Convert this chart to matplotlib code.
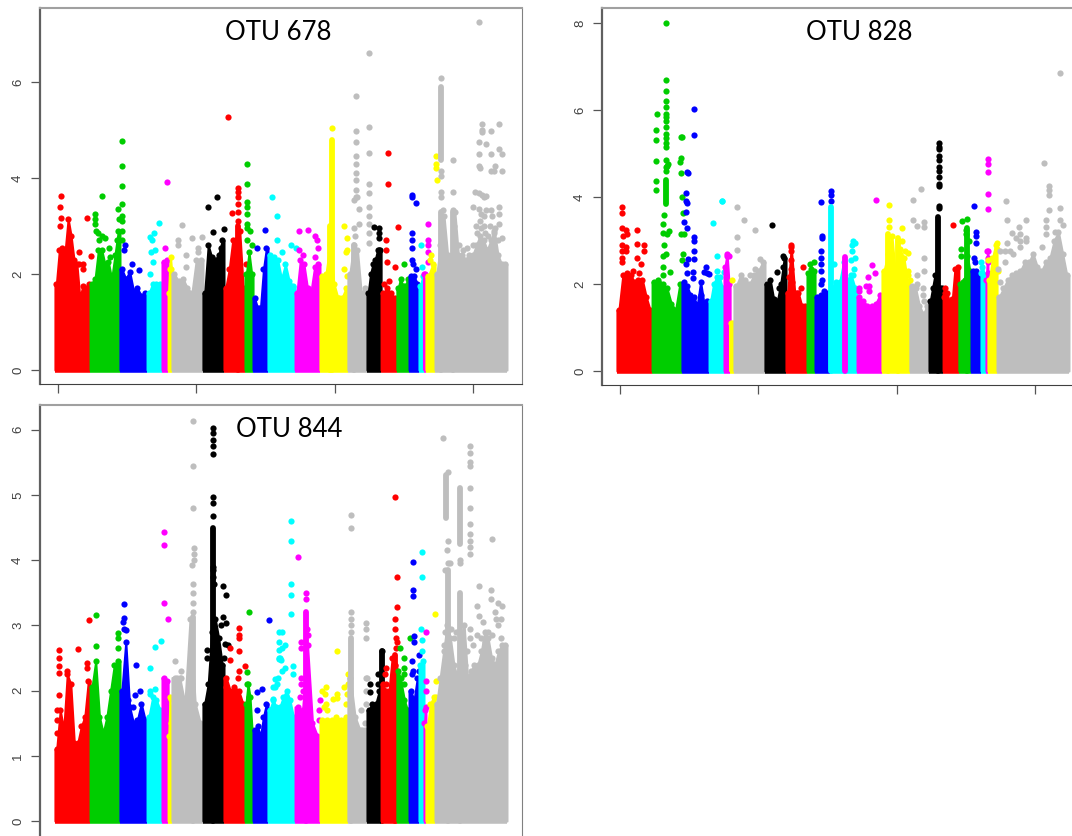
import numpy as np
import matplotlib
matplotlib.use('Agg')
import matplotlib.pyplot as plt

# chromosome edges in Mb, same for all three panels
chrom_edges = [-11, 116, 224, 322, 376, 398, 412, 524, 600, 676, 705, 759, 857, 947,
               1048, 1117, 1168, 1225, 1269, 1305, 1323, 1330, 1363, 1623]
palette = ['#FF0000', '#00CD00', '#0000FF', '#00FFFF', '#FF00FF', '#FFFF00', '#BEBEBE', '#000000']
chrom_colors = [palette[i % 8] for i in range(23)]
x_ticks = [0, 500, 1000, 1500]

# skyline of the solid part of each chromosome
heights_678 = [
    [1.8, 2.5, 2.55, 2.5, 3.15, 2.8, 2.3, 2.2, 1.5, 1.75, 1.7, 1.8],
    [1.8, 1.9, 2.5, 2.5, 2.2, 2.25, 1.9, 2.4, 2.9],
    [2.1, 1.9, 2.05, 1.65, 1.7, 1.55, 1.6],
    [1.6, 1.8, 1.8, 1.8],
    [2.25, 2.3],
    [1.6, 2.1, 2.35, 2.1],
    [2.0, 1.85, 1.9, 1.7, 1.6, 2.3, 2.3],
    [1.6, 2.6, 2.35, 2.3, 2.4, 2.7],
    [1.7, 2.1, 2.7, 2.7, 2.9, 1.7],
    [2.0, 2.45, 2.0],
    [1.5, 1.3, 1.3, 2.1, 2.55],
    [2.4, 2.35, 2.3, 1.9, 2.2, 1.85, 1.75],
    [1.6, 2.3, 2.2, 1.7, 1.65, 2.15, 2.2],
    [1.95, 2.0, 2.6, 1.8, 1.5, 1.5, 1.7],
    [2.0, 2.6, 2.5, 1.6, 1.7],
    [1.6, 2.0, 2.2, 2.3, 2.5, 2.5],
    [1.6, 1.7, 1.6, 1.5],
    [1.7, 1.9, 1.75, 1.75, 1.9],
    [1.95, 1.95, 1.8],
    [1.75, 1.95],
    [2.0, 2.0],
    [1.95, 2.2],
    [2.0, 2.6, 3.2, 2.4, 2.3, 3.3, 2.4, 2.4, 2.3, 2.4, 2.4, 2.6, 2.8, 2.7, 2.5, 2.7, 2.9, 2.4, 2.2, 2.2],
]
# tall solid columns: chromosome, x, low, high
columns_678 = [(13, 989, 0, 4.8), (13, 985, 0, 3.0), (14, 1070, 0, 2.6),
               (22, 1383, 4.37, 5.9), (22, 1383, 0, 3.3), (22, 1428, 0, 3.3), (8, 652, 0, 3.0)]
points_678 = [
    [(10, 3.63), (8, 3.4), (10, 3.17), (9, 3.0), (77, 2.45), (106, 3.17), (121, 2.37), (77, 2.2), (92, 2.2), (92, 2.1)],
    [(133, 3.25), (133, 3.15), (135, 3.05), (137, 2.9), (145, 2.85), (150, 2.7), (158, 2.8), (160, 3.63), (170, 2.75),
     (183, 2.55), (188, 2.35), (218, 3.35), (221, 3.15), (231, 3.2), (231, 3.1), (231, 3.45), (231, 3.83), (231, 4.25),
     (231, 4.77), (231, 2.9), (231, 2.7), (215, 2.7)],
    [(242, 2.6), (238, 2.5), (266, 2.2), (294, 2.08)],
    [(332, 2.78), (340, 2.7), (348, 2.85), (350, 2.5), (335, 2.45), (345, 2.25), (365, 3.07), (332, 2.0)],
    [(386, 2.55), (394, 3.92)],
    [],
    [(435, 2.7), (435, 2.6), (450, 3.02), (462, 2.4), (483, 2.75), (507, 2.45), (520, 2.78), (462, 2.15), (507, 2.55)],
    [(544, 3.4), (560, 2.87), (576, 3.6), (600, 2.93), (590, 2.55)],
    [(614, 5.27), (629, 3.27), (652, 3.8), (652, 3.7), (652, 3.6), (652, 3.45), (652, 3.3), (652, 3.1), (679, 2.2)],
    [(685, 4.3), (685, 3.87), (685, 3.5), (685, 3.4), (685, 3.25), (685, 3.05), (685, 2.95), (695, 2.9), (685, 2.7), (700, 2.6)],
    [(750, 2.92), (721, 2.55)],
    [(772, 3.6), (792, 3.2), (792, 2.7), (844, 2.6), (862, 2.55), (810, 2.45)],
    [(872, 2.9), (905, 2.92), (929, 2.8), (935, 2.7), (940, 2.55), (872, 2.5), (885, 2.4), (929, 2.35)],
    [(989, 5.05), (1034, 3.0), (1046, 2.75), (1040, 2.45), (1045, 2.5), (1035, 2.1), (1045, 1.95), (1015, 1.5)],
    [(1077, 5.7), (1077, 4.98), (1077, 4.75), (1077, 4.45), (1077, 4.3), (1077, 4.1), (1077, 3.95), (1077, 3.75),
     (1077, 3.6), (1080, 3.6), (1070, 3.55), (1089, 3.35), (1089, 3.05), (1070, 2.95), (1075, 2.8),
     (1124, 6.6), (1124, 5.07), (1124, 4.52), (1124, 3.88), (1124, 3.68), (1124, 3.4), (1124, 3.2), (1124, 3.05),
     (1124, 2.85), (1124, 2.65)],
    [(1141, 2.98), (1161, 2.95), (1161, 2.85), (1162, 2.75), (1161, 2.5), (1150, 2.3)],
    [(1194, 4.52), (1193, 3.88), (1185, 2.7), (1230, 2.98), (1185, 2.5), (1190, 2.25), (1218, 2.15), (1180, 1.8), (1195, 1.85)],
    [(1252, 2.2)],
    [(1278, 3.65), (1278, 3.6), (1294, 3.48), (1278, 2.85), (1279, 2.7), (1279, 2.55), (1279, 2.3), (1285, 2.2), (1295, 2.1)],
    [(1311, 2.6), (1317, 2.15)],
    [(1336, 3.05), (1336, 2.7), (1336, 2.6), (1336, 2.45), (1336, 2.25)],
    [(1365, 4.45), (1368, 4.3), (1368, 4.2), (1370, 3.95), (1348, 2.4), (1345, 2.3)],
    [(1522, 7.24), (1383, 6.08), (1383, 4.15), (1383, 4.05), (1383, 3.7), (1383, 3.6), (1390, 3.33), (1428, 4.37), (1428, 3.7), (1428, 3.33),
     (1432, 3.0), (1432, 2.7), (1509, 3.7), (1522, 3.68), (1534, 3.65), (1540, 3.6), (1549, 3.63), (1499, 3.4), (1522, 3.35),
     (1549, 3.33), (1567, 3.33), (1595, 3.4), (1595, 3.25), (1595, 3.05), (1510, 3.0), (1525, 3.1), (1540, 3.0), (1560, 3.0),
     (1580, 2.95), (1606, 2.75), (1575, 2.85), (1532, 5.13), (1534, 5.0), (1534, 4.95), (1595, 5.13), (1567, 4.97),
     (1522, 4.75), (1549, 4.7), (1567, 4.5), (1522, 4.5), (1595, 4.6), (1606, 4.5), (1522, 4.25), (1525, 4.2), (1580, 4.25),
     (1575, 4.15), (1606, 4.15), (1567, 4.15), (1515, 2.85), (1530, 2.95), (1545, 2.85), (1555, 2.8), (1590, 2.7), (1540, 3.2),
     (1528, 3.25), (1570, 3.2), (1480, 2.55), (1500, 2.6), (1450, 2.6), (1465, 2.5)],
]

heights_828 = [
    [1.4, 2.2, 2.25, 2.2, 2.05, 2.1, 2.1, 1.7, 1.4],
    [2.05, 2.1, 2.0, 1.9, 1.55, 1.4, 2.0],
    [2.05, 1.95, 1.75, 1.7, 1.5, 2.05, 1.55, 1.6],
    [1.6, 2.0, 2.15, 2.15, 1.9],
    [2.4, 2.7, 2.0],
    [1.1, 1.1],
    [1.95, 2.2, 2.1, 2.0, 2.2, 2.3, 2.5],
    [2.0, 2.1, 1.65, 1.6, 2.0, 2.6],
    [1.8, 2.85, 1.8, 1.8, 1.5, 1.5],
    [2.25, 2.35, 2.3],
    [1.7, 1.75, 1.85, 1.8],
    [1.9, 2.05, 2.05, 2.5, 2.1, 2.2, 1.9],
    [1.7, 1.6, 1.5, 1.5, 1.55, 1.75],
    [2.3, 2.7, 3.1, 2.1, 2.8, 2.6, 2.0],
    [1.95, 1.9, 1.5, 1.3, 1.5],
    [1.6, 1.9, 2.2, 1.9, 1.9, 1.9],
    [1.7, 1.8, 1.55, 1.65, 2.35, 2.4],
    [2.0, 2.05, 2.1, 2.65, 2.3],
    [2.3, 2.3, 2.2],
    [2.4, 2.2],
    [2.1, 2.75],
    [2.1, 2.6, 2.9],
    [1.7, 1.9, 2.1, 2.2, 2.25, 2.3, 2.5, 2.5, 2.7, 2.4, 2.3, 2.5, 2.6, 3.0, 3.2, 2.7, 2.2],
]
columns_828 = [(1, 165, 3.85, 4.4), (11, 762, 0, 3.78), (12, 813, 0, 2.63), (15, 1151, 0, 3.55),
               (13, 970, 0, 3.15), (13, 1006, 0, 3.05), (17, 1253, 0, 3.28)]
points_828 = [
    [(9, 3.78), (9, 3.63), (9, 3.28), (20, 3.25), (24, 3.15), (12, 3.1), (9, 2.9), (20, 2.85), (9, 2.75), (20, 2.75),
     (9, 2.6), (9, 2.5), (62, 3.24), (62, 2.93), (62, 2.6), (75, 2.45), (87, 2.9), (87, 2.75), (48, 2.3), (70, 2.25)],
    [(165, 8.0), (165, 6.7), (165, 6.43), (165, 6.2), (165, 6.07), (165, 5.9), (165, 5.85), (165, 5.75), (165, 5.6),
     (165, 5.45), (165, 5.35), (165, 5.25), (165, 5.15), (165, 4.85), (165, 4.7), (165, 4.6), (133, 5.9), (131, 5.55),
     (131, 5.32), (131, 4.83), (131, 4.37), (131, 4.15), (175, 4.75), (170, 4.72), (158, 3.58), (157, 3.38), (155, 3.17),
     (170, 3.15), (176, 3.22), (160, 2.9), (165, 2.7), (155, 2.65), (157, 2.4), (155, 2.2), (180, 2.28), (223, 5.37),
     (220, 5.37), (222, 4.9), (218, 4.8), (222, 4.55), (225, 4.0), (227, 3.63), (230, 3.15), (220, 3.15), (229, 2.7), (225, 2.55)],
    [(267, 6.03), (267, 5.42), (241, 4.57), (245, 4.55), (240, 4.1), (240, 3.9), (243, 3.87), (240, 3.65), (232, 3.43),
     (243, 3.28), (267, 3.07), (267, 2.98), (267, 2.75), (245, 2.58), (267, 2.58), (237, 2.45), (243, 2.25), (265, 2.28),
     (265, 2.13), (310, 2.38), (305, 2.28), (315, 2.25), (322, 2.22), (294, 1.75)],
    [(337, 3.4), (367, 3.9), (370, 3.9), (349, 2.65), (349, 2.3), (375, 2.27)],
    [(385, 2.65), (395, 2.65)],
    [(405, 2.1)],
    [(424, 3.78), (424, 3.07), (424, 2.78), (447, 3.48), (488, 3.25), (505, 2.57), (488, 2.35), (470, 2.2)],
    [(548, 3.35), (590, 2.65), (568, 2.28), (590, 2.4), (575, 1.9)],
    [(617, 2.9), (617, 2.75), (617, 2.55), (617, 2.35), (663, 2.38), (610, 2.15), (620, 2.05), (655, 1.9), (640, 1.8)],
    [(686, 2.45), (703, 2.5)],
    [(727, 3.88), (732, 3.1), (732, 3.05), (727, 2.75), (727, 2.6), (727, 2.45), (727, 2.3), (730, 2.1), (727, 2.0),
     (762, 4.13), (762, 4.05), (762, 3.9)],
    [(844, 3.0), (848, 2.95), (840, 2.9), (840, 2.75), (850, 2.6), (835, 2.55), (845, 2.35), (775, 2.45), (842, 2.2)],
    [(926, 3.92), (910, 2.43), (923, 2.25), (898, 2.15), (900, 1.95), (900, 1.85), (865, 1.9), (865, 1.85), (890, 1.95)],
    [(973, 3.82), (973, 3.47), (973, 3.3), (1018, 3.28), (1005, 3.0), (1018, 3.0), (1030, 2.75), (1042, 2.72), (1042, 2.3),
     (1050, 2.1), (1040, 2.2), (1020, 2.5)],
    [(1088, 4.18), (1060, 3.92), (1060, 3.46), (1072, 3.33), (1098, 3.43), (1098, 3.3), (1098, 2.6), (1100, 2.3), (1073, 2.2),
     (1075, 2.0), (1095, 1.9), (1095, 1.75), (1100, 1.6)],
    [(1153, 5.25), (1153, 5.15), (1153, 5.1), (1153, 4.95), (1153, 4.85), (1153, 4.7), (1153, 4.6), (1153, 4.45), (1153, 4.3),
     (1153, 4.25), (1153, 3.8), (1153, 3.75)],
    [(1205, 3.35), (1175, 1.9), (1175, 1.8)],
    [(1237, 3.45), (1255, 3.5), (1252, 3.25), (1250, 3.15), (1260, 3.0), (1232, 2.8), (1232, 2.65)],
    [(1281, 3.8), (1288, 3.2), (1288, 3.1), (1288, 2.95), (1280, 2.6), (1282, 2.5)],
    [(1306, 2.5), (1306, 2.25)],
    [(1329, 4.87), (1329, 4.75), (1329, 4.57), (1329, 4.08), (1329, 3.73), (1329, 2.75), (1329, 2.6), (1329, 2.5), (1329, 2.25)],
    [(1364, 2.95), (1364, 2.8), (1367, 2.3), (1332, 2.55)],
    [(1394, 3.9), (1400, 3.47), (1398, 2.95), (1416, 3.17), (1432, 3.05), (1445, 3.15), (1445, 3.0), (1445, 2.85), (1444, 3.3),
     (1468, 3.48), (1468, 3.05), (1468, 3.0), (1534, 4.78), (1550, 4.25), (1550, 4.15), (1550, 4.05), (1550, 3.7), (1541, 3.47),
     (1541, 3.3), (1541, 3.15), (1591, 6.85), (1591, 3.75), (1591, 3.47), (1603, 3.35), (1573, 3.2), (1575, 3.0), (1524, 2.85),
     (1374, 2.05), (1368, 2.35), (1372, 2.75), (1390, 2.75), (1410, 2.75), (1420, 2.7), (1390, 2.5)],
]

heights_844 = [
    [1.1, 1.7, 1.4, 2.25, 2.1, 1.2, 1.2, 1.45, 1.6, 2.15],
    [2.05, 2.45, 1.6, 1.35, 1.6, 2.0, 2.4, 2.45],
    [2.0, 2.75, 1.75, 1.5, 1.55, 1.8, 1.55],
    [1.6, 1.9, 1.85, 1.7],
    [2.2, 2.15],
    [1.3, 1.9, 1.5],
    [2.2, 2.2, 1.8, 3.1, 1.8, 1.5],
    [1.8, 2.1, 2.9, 3.1, 2.8, 2.4],
    [2.2, 2.0, 2.05, 2.0, 1.8],
    [1.8, 2.1, 1.9, 1.4],
    [1.4, 1.45, 1.3, 1.6, 1.8],
    [1.7, 1.85, 1.75, 1.75, 1.9, 2.0, 1.85, 1.6],
    [1.75, 1.7, 2.7, 1.5, 1.3],
    [1.55, 1.55, 1.55, 1.6, 1.55, 1.6],
    [2.2, 1.6, 1.4, 1.4],
    [1.7, 1.8, 1.8, 2.0],
    [2.1, 2.0, 2.0, 2.5, 2.4],
    [2.3, 2.1, 1.85, 1.7],
    [2.0, 1.85, 2.2],
    [2.4, 2.45],
    [1.5, 1.7],
    [1.45, 1.8, 1.9],
    [1.8, 2.2, 2.6, 3.0, 2.8, 2.4, 2.2, 2.8, 3.0, 2.2, 2.3, 2.4, 2.4, 2.6, 2.9, 2.8, 2.5, 2.4, 2.6, 2.7, 2.7],
]
columns_844 = [(7, 561, 0, 4.5), (12, 898, 0, 3.2), (14, 1061, 0, 2.8), (15, 1173, 0, 2.6), (16, 1218, 0, 2.55),
               (22, 1411, 0, 3.85), (22, 1452, 0, 3.5), (22, 1401, 4.65, 5.3), (22, 1455, 4.25, 5.1), (6, 489, 0, 3.13)]
points_844 = [
    [(2, 2.62), (2, 2.5), (2, 2.38), (2, 2.27), (2, 1.93), (71, 2.64), (113, 3.08), (106, 2.42), (106, 2.35), (31, 2.3),
     (-2, 1.7), (-2, 1.55), (-5, 1.35)],
    [(139, 3.16), (139, 2.68), (218, 2.88), (218, 2.8), (218, 2.65)],
    [(240, 3.33), (240, 3.12), (235, 3.05), (240, 2.95), (245, 2.93), (282, 2.4), (278, 1.93), (296, 2.0), (254, 1.85), (272, 1.75)],
    [(332, 2.35), (350, 2.67), (374, 2.76), (332, 1.95), (332, 2.0), (350, 2.03)],
    [(383, 4.43), (383, 4.24), (383, 3.34), (398, 3.1)],
    [(408, 1.87)],
    [(489, 6.13), (489, 5.45), (489, 4.8), (492, 4.18), (492, 4.1), (490, 4.0), (486, 3.93), (488, 3.63), (488, 3.5), (488, 3.35),
     (488, 3.2), (423, 2.45), (445, 2.3), (445, 2.2), (430, 2.2)],
    [(561, 6.02), (561, 5.95), (561, 5.85), (561, 5.75), (561, 5.63), (561, 4.97), (561, 4.88), (561, 4.68), (565, 3.63), (560, 3.75),
     (560, 3.9), (560, 3.85), (596, 3.6), (607, 3.46), (595, 3.13), (609, 3.04), (591, 3.0), (603, 2.72), (615, 2.7), (540, 2.63),
     (540, 2.5), (600, 2.5)],
    [(655, 2.96), (655, 2.85), (655, 2.8), (653, 2.6), (621, 2.65), (621, 2.47), (676, 2.38), (653, 2.3), (650, 2.2), (607, 2.05)],
    [(691, 3.2), (685, 2.28), (685, 2.1), (690, 1.9)],
    [(762, 3.08), (736, 2.03), (718, 1.98), (718, 1.7)],
    [(844, 4.6), (844, 4.3), (844, 3.63), (844, 3.47), (842, 3.18), (808, 2.9), (808, 2.65), (820, 2.7), (800, 2.5), (805, 2.47),
     (790, 2.1), (802, 2.5), (820, 2.35), (848, 2.38), (848, 2.25), (810, 2.3), (785, 2.05), (795, 2.2), (800, 2.9), (800, 2.75),
     (800, 2.62), (800, 2.48), (784, 2.18), (778, 2.05), (776, 1.87)],
    [(868, 4.05), (898, 3.5), (898, 3.4), (900, 2.95), (905, 2.85), (878, 2.75), (878, 2.65), (878, 2.2), (878, 2.1), (885, 2.0),
     (875, 1.9), (947, 1.85), (945, 1.7), (945, 1.55)],
    [(1007, 2.6), (968, 2.05), (953, 2.0), (967, 1.95), (1007, 1.95), (995, 1.87), (1007, 1.88), (1034, 2.05), (1049, 2.1), (1049, 2.25),
     (1041, 1.8), (971, 1.7), (970, 1.8), (960, 1.75), (1045, 1.95)],
    [(1061, 4.7), (1061, 4.5), (1061, 3.2), (1061, 3.1), (1061, 3.0), (1061, 2.9), (1113, 3.03), (1113, 2.95), (1113, 2.8), (1113, 2.2),
     (1118, 2.2), (1113, 2.0), (1113, 1.8), (1109, 1.5), (1096, 1.7), (1100, 1.4)],
    [(1128, 2.1), (1128, 1.98), (1157, 2.25), (1155, 2.1), (1165, 2.0), (1172, 2.6)],
    [(1218, 4.97), (1224, 3.75), (1226, 3.28), (1218, 3.1), (1218, 2.95), (1222, 2.8), (1225, 2.75), (1222, 2.65), (1185, 2.35),
     (1183, 2.25), (1185, 2.1)],
    [(1236, 2.65), (1252, 2.5), (1252, 2.35), (1252, 2.25), (1240, 2.2), (1250, 2.1), (1272, 2.8)],
    [(1282, 3.97), (1282, 3.55), (1282, 3.45), (1288, 2.83), (1288, 2.75), (1278, 2.45), (1282, 2.3), (1280, 2.25), (1305, 2.55), (1305, 2.3)],
    [(1317, 4.12), (1317, 3.75), (1311, 2.95), (1316, 2.78), (1316, 2.6)],
    [(1332, 2.9), (1332, 2.15), (1332, 2.0), (1332, 1.75)],
    [(1362, 3.18), (1368, 2.15), (1368, 1.9), (1362, 1.75)],
    [(1393, 5.87), (1489, 5.75), (1489, 5.65), (1489, 5.5), (1489, 5.45), (1489, 5.1), (1489, 4.8), (1489, 4.55), (1489, 4.4), (1489, 4.3),
     (1489, 4.2), (1489, 4.1), (1411, 5.35), (1411, 4.3), (1407, 4.15), (1411, 3.95), (1399, 3.85), (1417, 3.95), (1455, 4.0), (1455, 3.95),
     (1568, 4.33), (1522, 3.6), (1567, 3.55), (1567, 3.4), (1591, 3.35), (1606, 3.3), (1580, 3.2), (1513, 3.3), (1522, 3.15), (1535, 3.05),
     (1600, 3.1), (1585, 3.1), (1489, 2.95), (1489, 2.8), (1545, 2.75), (1530, 2.8), (1570, 2.85), (1600, 2.8), (1400, 2.9), (1395, 2.7),
     (1420, 2.95), (1430, 2.8), (1440, 2.9), (1470, 2.4), (1480, 2.6), (1500, 2.7), (1515, 2.85), (1555, 2.9), (1590, 3.0)],
]

W, H = 1072, 836
fig = plt.figure(figsize=(W / 100, H / 100), dpi=100, facecolor='white')


def panel(box, tick0, y0, per_unit, title, title_xy, yticks, heights, columns, points):
    left, top, right, bottom = box
    ax = fig.add_axes([left / W, 1 - bottom / H, (right - left) / W, (bottom - top) / H])
    # 138.3 px between the 500 Mb ticks
    ax.set_xlim((left - tick0) * 3.615, (right - tick0) * 3.615)
    ax.set_ylim((y0 - bottom) / per_unit, (y0 - top) / per_unit)
    for i in range(23):
        c = chrom_colors[i]
        z = 2 + i * 0.01
        x0, x1 = chrom_edges[i], chrom_edges[i + 1]
        h = heights[i]
        w = (x1 - x0) / len(h)
        xs = x0 + w * (np.arange(len(h)) + 0.5)
        ax.fill_between(np.r_[x0, xs, x1], 0, np.r_[h[0], h, h[-1]], color=c, linewidth=1.5, zorder=z)
        ax.scatter(xs, h, s=20, color=c, linewidth=0, zorder=z)
        ax.plot([x0, x1], [0, 0], color=c, lw=4, solid_capstyle='butt', zorder=z)
        for col in columns:
            if col[0] == i:
                ax.plot([col[1], col[1]], [col[2], col[3]], color=c, lw=4.2, solid_capstyle='round', zorder=z)
        if points[i]:
            px, py = zip(*points[i])
            ax.scatter(px, py, s=20, color=c, linewidth=0, zorder=z)
    ax.set_xticks(x_ticks)
    ax.set_xticklabels([])
    ax.set_yticks(yticks)
    ax.set_yticklabels([str(t) for t in yticks], rotation=90, va='center', fontsize=9.5, color='#404040',
                        family='Liberation Sans')
    ax.tick_params(axis='both', length=6.5, width=0.9, color='#555555', pad=5)
    ax.spines['left'].set_color('#606060')
    ax.spines['left'].set_linewidth(1.6)
    ax.spines['bottom'].set_color('#404040')
    ax.spines['top'].set_color('#a0a0a0')
    ax.spines['top'].set_linewidth(1.5)
    ax.spines['right'].set_color('#808080')
    fig.text(title_xy[0] / W, 1 - title_xy[1] / H, title, ha='center', va='center', fontsize=18.5,
             family='Lato', color='black')
    return ax


panel((40, 8, 522, 384), 58, 370, 48, 'OTU 678', (278, 33), [0, 2, 4, 6], heights_678, columns_678, points_678)
panel((602, 8, 1095, 385), 620, 371, 43.5, 'OTU 828', (859, 32), [0, 2, 4, 6, 8], heights_828, columns_828, points_828)
panel((40, 405, 522, 845), 58, 821, 65.2, 'OTU 844', (289, 429), [0, 1, 2, 3, 4, 5, 6], heights_844, columns_844, points_844)

fig.savefig('out.png', dpi=100)
